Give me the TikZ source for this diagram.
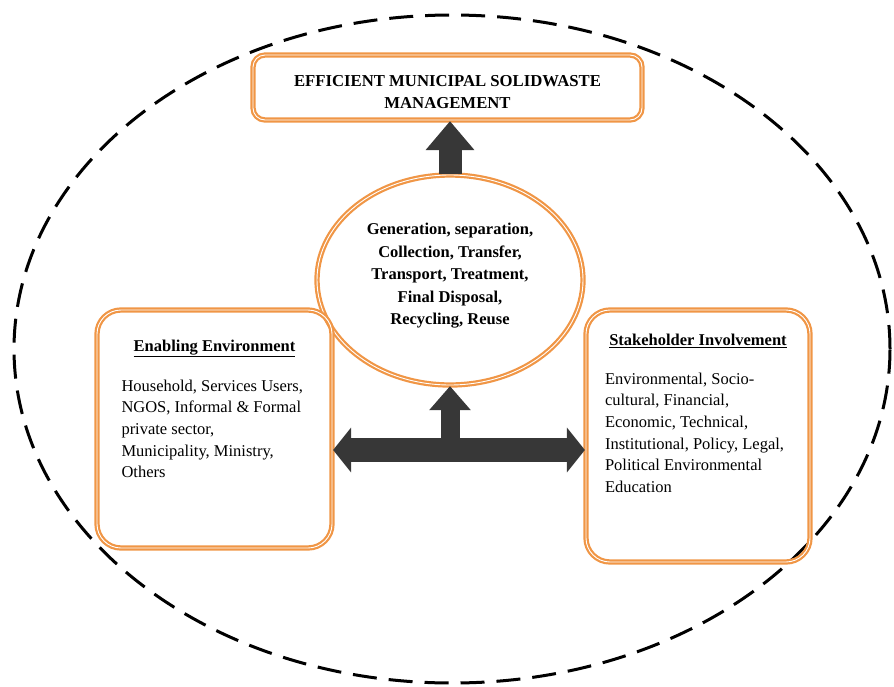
\documentclass[tikz,border=0pt]{standalone}
\usepackage{fontspec}
\setmainfont{Liberation Serif}
\usepackage{tikz}
\usetikzlibrary{arrows.meta,shapes.geometric,calc}

\definecolor{swmorange}{RGB}{240,150,70}
\definecolor{swmarrow}{RGB}{55,55,55}

\tikzset{
  swmline/.style={draw=swmorange, line width=2.2pt, double=white, double distance=0.9pt},
  goalbox/.style={swmline, rounded corners=12pt, minimum width=389pt, minimum height=65pt,
    inner sep=0pt, font=\fontsize{16.7}{22}\selectfont\bfseries},
  procell/.style={swmline, ellipse, inner sep=0pt,
    font=\fontsize{16.5}{22.5}\selectfont\bfseries},
  sidebox/.style={swmline, rounded corners=24pt, inner sep=0pt,
    font=\fontsize{16.5}{21.7}\selectfont},
  blockarrow/.style={draw=swmarrow, line width=#1},
}

\begin{document}
\begin{tikzpicture}[x=1pt,y=-1pt]
\useasboundingbox (0,0) rectangle (894,686);
% outer dashed boundary
\draw[line width=3pt, dash pattern=on 24pt off 12pt] (452,349) ellipse [x radius=438pt, y radius=334pt];

\node[goalbox] (goal) at (447.5,87.5)
  {\raisebox{-9pt}[0pt][0pt]{\parbox{370pt}{\centering EFFICIENT MUNICIPAL SOLIDWASTE\\MANAGEMENT}}};
\node[procell, minimum width=266pt, minimum height=210pt] (proc) at (450,280)
  {\raisebox{0pt}[0pt][0pt]{\parbox{184pt}{\centering Generation, separation,\\Collection, Transfer,\\Transport, Treatment,\\Final Disposal,\\Recycling, Reuse}}};

\node[sidebox, minimum width=235pt, minimum height=238pt] (enab) at (214.5,429)
  {\parbox[c][178pt][t]{186pt}{{\centering\underline{\textbf{Enabling Environment}}\par}\vspace{18pt}
   {\raggedright Household, Services Users,\\NGOS, Informal \& Formal\\private sector,\\Municipality, Ministry,\\Others\par}}};
\node[sidebox, minimum width=224pt, minimum height=252pt] (stake) at (698,436)
  {\parbox[c][204pt][t]{186pt}{{\centering\underline{\textbf{Stakeholder Involvement}}\par}\vspace{17pt}
   {\raggedright Environmental, Socio-\\cultural, Financial,\\Economic, Technical,\\Institutional, Policy, Legal,\\Political Environmental\\Education\par}}};

% block arrows
\coordinate (mid) at (proc.south |- 0,450);
\draw[blockarrow=23pt, -{Triangle[width=47pt,length=29pt]}] (proc.north) -- (proc.north |- goal.south);
\draw[blockarrow=19pt, -{Triangle[width=40pt,length=24pt]}] (mid) -- (proc.south);
\draw[blockarrow=24pt, {Triangle[width=44pt,length=18pt]}-{Triangle[width=44pt,length=18pt]}]
  (enab.east |- mid) -- (stake.west |- mid);
\end{tikzpicture}
\end{document}
